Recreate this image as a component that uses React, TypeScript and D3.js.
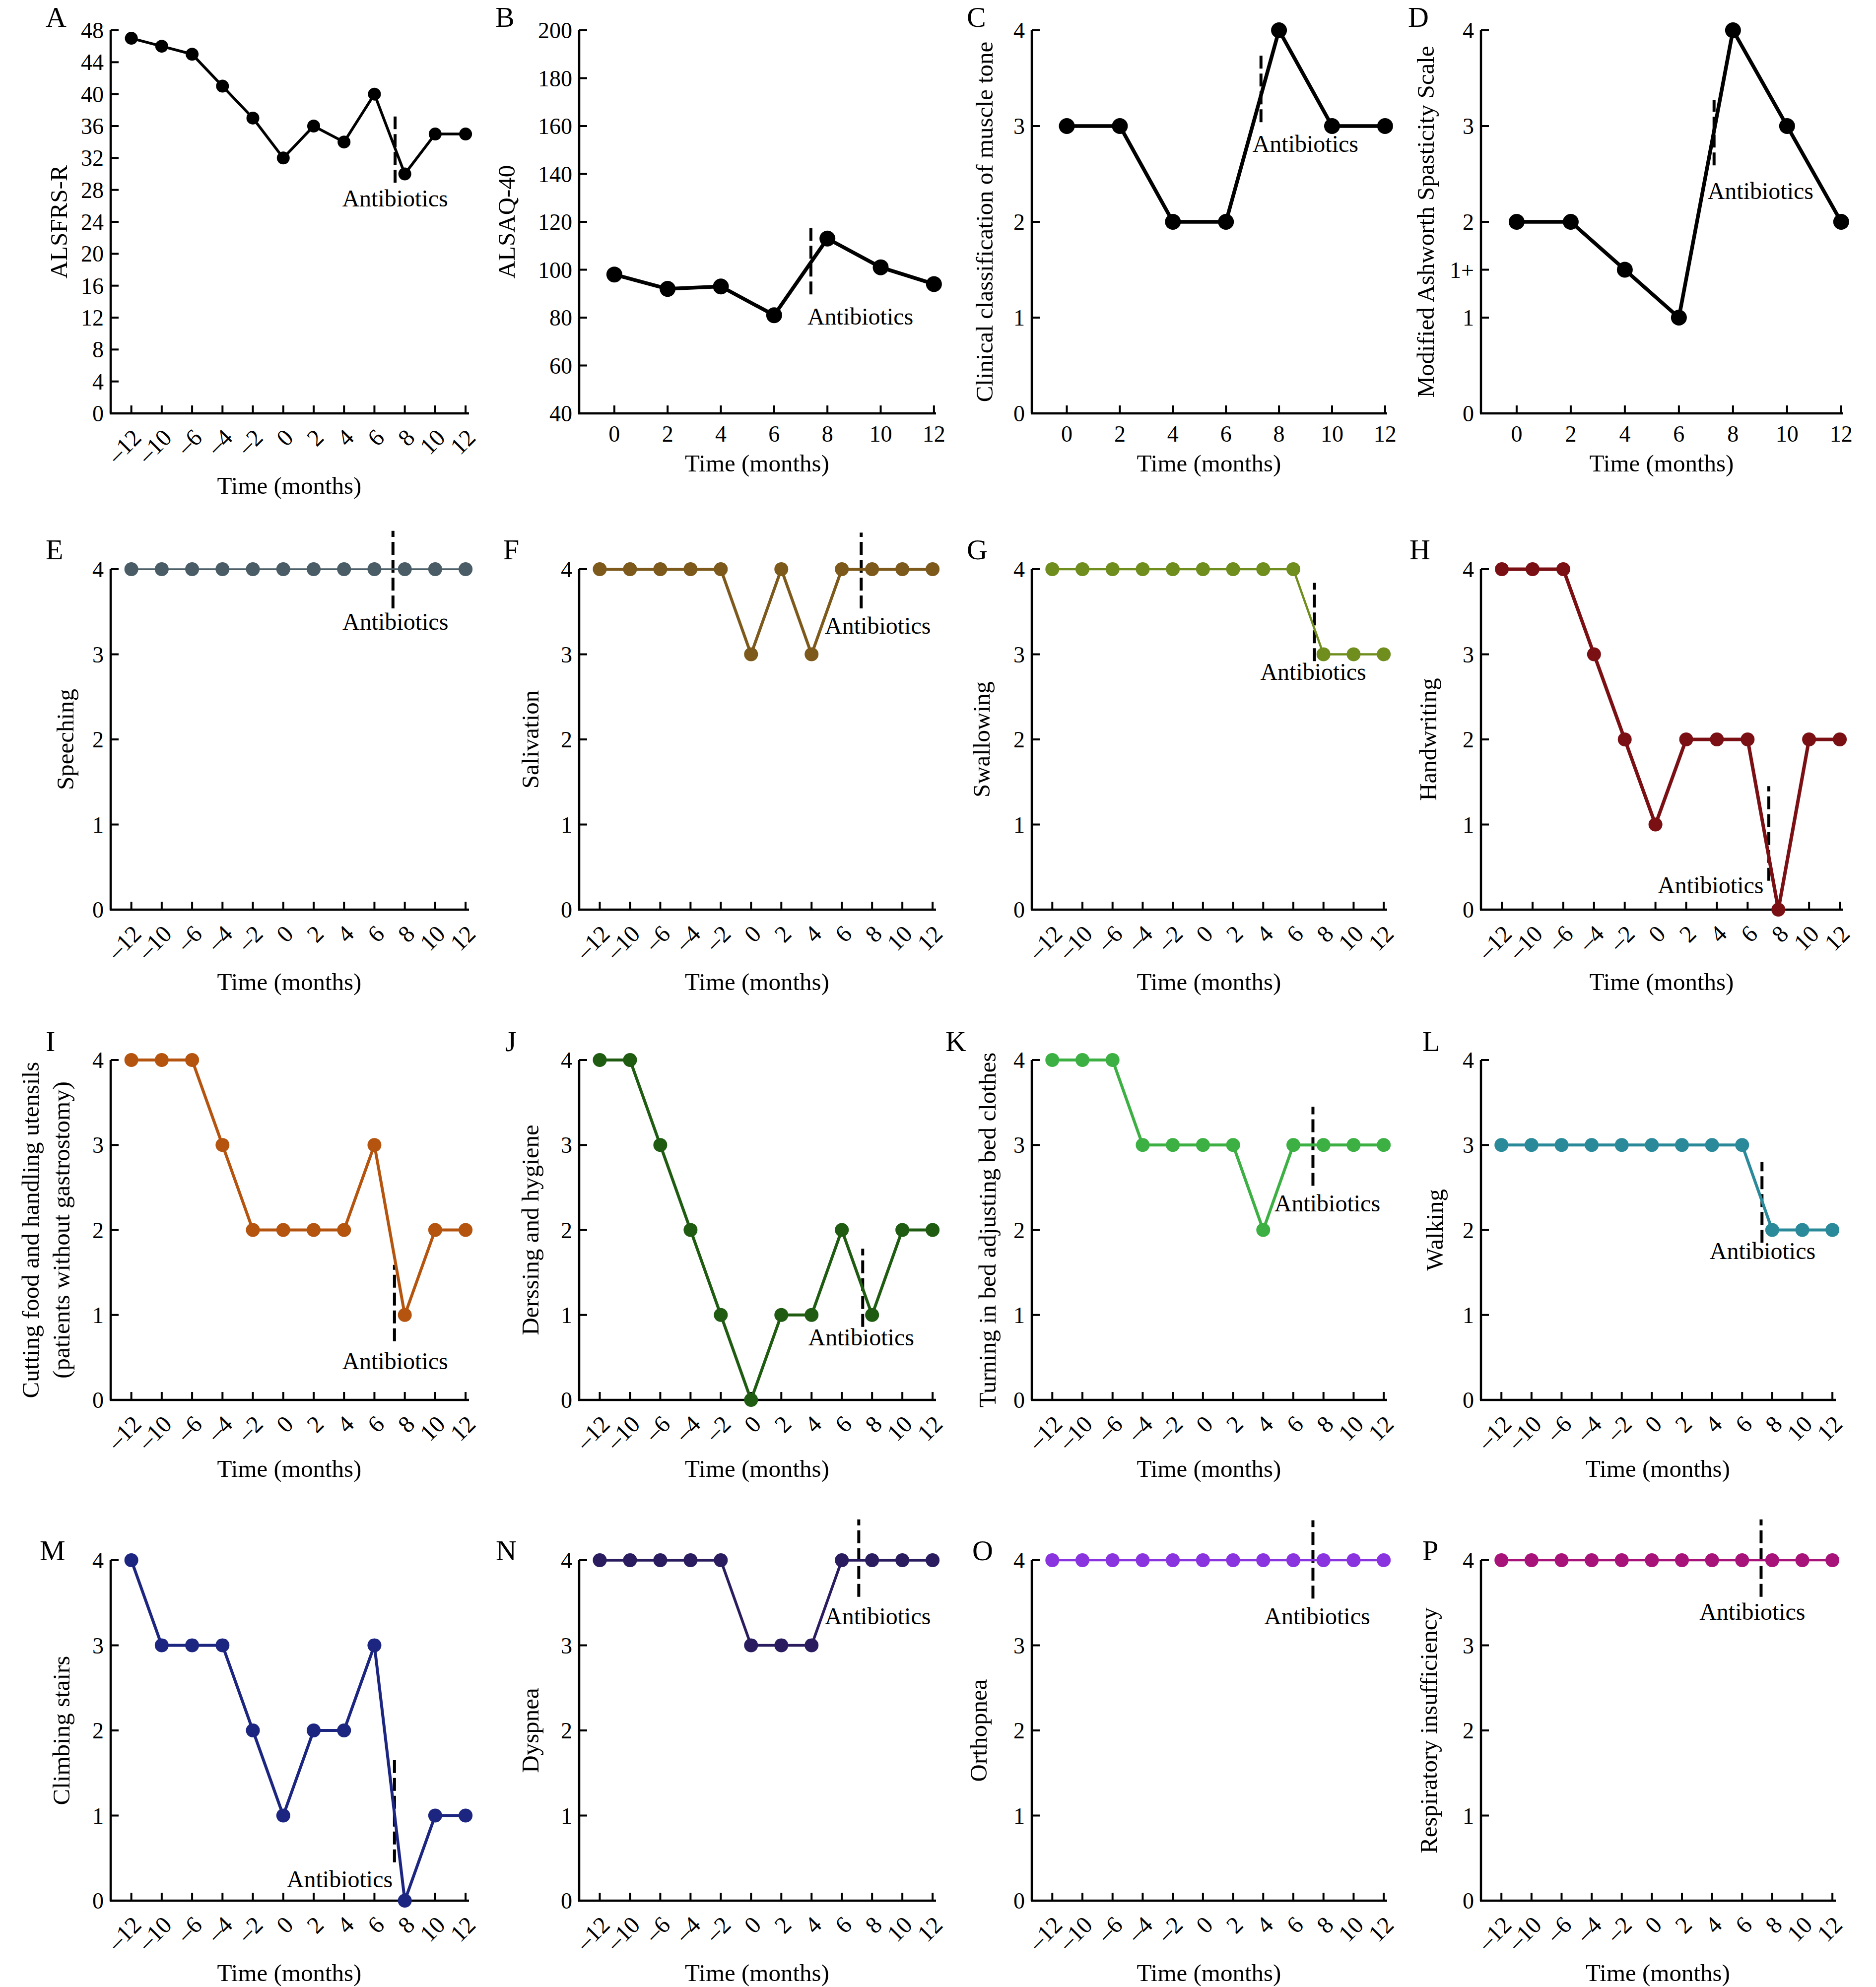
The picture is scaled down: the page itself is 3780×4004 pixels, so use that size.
import React from 'react';
import * as d3 from 'd3';

// ---------- data ----------
const monthsLong = [-12, -10, -6, -4, -2, 0, 2, 4, 6, 8, 10, 12];
const monthsLongLabels = ['–12', '–10', '–6', '–4', '–2', '0', '2', '4', '6', '8', '10', '12'];
const monthsShort = [0, 2, 4, 6, 8, 10, 12];

const alsfrsR = [47, 46, 45, 41, 37, 32, 36, 34, 40, 30, 35, 35];
const alsaq40 = [98, 92, 93, 81, 113, 101, 94];
const muscleTone = [3, 3, 2, 2, 4, 3, 3];
const ashworth = [2, 2, 1.5, 1, 4, 3, 2];
const speeching = [4, 4, 4, 4, 4, 4, 4, 4, 4, 4, 4, 4];
const salivation = [4, 4, 4, 4, 4, 3, 4, 3, 4, 4, 4, 4];
const swallowing = [4, 4, 4, 4, 4, 4, 4, 4, 4, 3, 3, 3];
const handwriting = [4, 4, 4, 3, 2, 1, 2, 2, 2, 0, 2, 2];
const cuttingFood = [4, 4, 4, 3, 2, 2, 2, 2, 3, 1, 2, 2];
const dressing = [4, 4, 3, 2, 1, 0, 1, 1, 2, 1, 2, 2];
const turningInBed = [4, 4, 4, 3, 3, 3, 3, 2, 3, 3, 3, 3];
const walking = [3, 3, 3, 3, 3, 3, 3, 3, 3, 2, 2, 2];
const climbingStairs = [4, 3, 3, 3, 2, 1, 2, 2, 3, 0, 1, 1];
const dyspnea = [4, 4, 4, 4, 4, 3, 3, 3, 4, 4, 4, 4];
const orthopnea = [4, 4, 4, 4, 4, 4, 4, 4, 4, 4, 4, 4];
const respiratory = [4, 4, 4, 4, 4, 4, 4, 4, 4, 4, 4, 4];

const ticksA = [0, 4, 8, 12, 16, 20, 24, 28, 32, 36, 40, 44, 48];
const ticksB = [40, 60, 80, 100, 120, 140, 160, 180, 200];
const ticks0to4 = [0, 1, 2, 3, 4];
const ticksD = [0, 1, 1.5, 2, 3, 4];
const ticksDLabels = ['0', '1', '1+', '2', '3', '4'];

const panelLetters = ['A', 'B', 'C', 'D', 'E', 'F', 'G', 'H', 'I', 'J', 'K', 'L', 'M', 'N', 'O', 'P'];
const yTitles: (string | string[])[] = [
  'ALSFRS-R',
  'ALSAQ-40',
  'Clinical classification of muscle tone',
  'Modified Ashworth Spasticity Scale',
  'Speeching',
  'Salivation',
  'Swallowing',
  'Handwriting',
  ['Cutting food and handling utensils', '(patients without gastrostomy)'],
  'Derssing and hygiene',
  'Turning in bed adjusting bed clothes',
  'Walking',
  'Climbing stairs',
  'Dyspnea',
  'Orthopnea',
  'Respiratory insufficiency',
];
const seriesList = [
  alsfrsR, alsaq40, muscleTone, ashworth,
  speeching, salivation, swallowing, handwriting,
  cuttingFood, dressing, turningInBed, walking,
  climbingStairs, dyspnea, orthopnea, respiratory,
];
// antibiotics annotation: [dashX, dashY1, dashY2, labelX, labelY]
const antibiotics = [
  [8.68, 28.9, 37.2, 8.68, 25.9],
  [7.38, 89.7, 117.5, 7.25, 77.1],
  [7.32, 3.04, 3.74, 7.0, 2.73],
  [7.3, 2.59, 3.27, 7.06, 2.24],
  [8.61, 3.54, 4.45, 8.69, 3.29],
  [8.64, 3.54, 4.43, 7.44, 3.24],
  [8.7, 2.92, 3.84, 8.66, 2.7],
  [8.69, 0.34, 1.45, 8.52, 0.19],
  [8.66, 0.69, 1.59, 8.68, 0.36],
  [8.69, 0.86, 1.78, 8.64, 0.64],
  [8.65, 2.52, 3.45, 7.37, 2.22],
  [8.66, 1.85, 2.8, 8.68, 1.66],
  [8.66, 0.45, 1.65, 8.6, 0.16],
  [8.56, 3.57, 4.48, 7.44, 3.25],
  [8.65, 3.55, 4.47, 8.79, 3.25],
  [8.63, 3.57, 4.48, 8.34, 3.3],
];

// ---------- styles / layout ----------
const colors = [
  '#000000', '#000000', '#000000', '#000000',
  '#4a5d66', '#7d5a1c', '#6f8e1e', '#7b1014',
  '#b5540f', '#1f5c12', '#3cb043', '#2b8a9a',
  '#1c2580', '#2a1c5e', '#8a34e0', '#a8137a',
];
const lineWidths = [5.5, 7.5, 7.5, 7.5, 3.5, 6, 4.5, 7, 6, 6, 6, 6, 6, 5.5, 4.5, 4.5];
const radii = [13, 16, 16, 16, 14, 14, 14, 14, 14, 14, 14, 14, 14, 14, 14, 14];
const labelAnchors = [
  'middle', 'start', 'start', 'start',
  'middle', 'start', 'middle', 'end',
  'middle', 'middle', 'start', 'middle',
  'end', 'start', 'middle', 'middle',
];
const rowTop = [61, 1147, 2136, 3144];
const rowBottom = [833, 1833, 2821, 3830];
const colAxisX = [223, 1167, 2079, 2984];
const colEndX = [943, 1884, 2793, 3712];
const letterDx = [-131, -169, -131, -147, -131, -153, -131, -144, -131, -149, -174, -118, -143, -168, -120, -118];
const letterDy = [-7, -7, -7, -7, -20, -20, -20, -20, -18, -18, -18, -18, 0, 0, 0, 0];
const yTitleDx: (number | number[])[] = [-105, -147, -96, -112, -92, -99, -102, -107, [-162, -100], -99, -90, -94, -100, -99, -108, -106];

const FONT = '"Liberation Serif","Times New Roman",Times,serif';
const TICK_FS = 46;
const ROT_TICK_FS = 48;
const TITLE_FS = 49;
const LETTER_FS = 58;
const ANNO_FS = 48;

function Panel({ i }: { i: number }) {
  const row = Math.floor(i / 4);
  const col = i % 4;
  const x0 = colAxisX[col];
  const x1 = row < 2 ? colEndX[col] : (col === 3 ? 3697 : colEndX[col]);
  const yTop = rowTop[row];
  const yBot = rowBottom[row];
  const short = i >= 1 && i <= 3;
  const values = seriesList[i];
  const color = colors[i];

  const xs = short
    ? d3.scaleLinear().domain([-1.32, 12.04]).range([x0, x1])
    : d3.scaleLinear().domain([-0.68, 11.08]).range([x0, x1]);
  const xPos = (k: number) => (short ? xs(monthsShort[k]) : xs(k));

  let yDomain = [0, 4];
  let yTicks = ticks0to4;
  let yTickLabels = ticks0to4.map(String);
  if (i === 0) { yDomain = [0, 48]; yTicks = ticksA; yTickLabels = ticksA.map(String); }
  if (i === 1) { yDomain = [40, 200]; yTicks = ticksB; yTickLabels = ticksB.map(String); }
  if (i === 3) { yTicks = ticksD; yTickLabels = ticksDLabels; }
  const ys = d3.scaleLinear().domain(yDomain).range([yBot, yTop]);

  const line = d3.line<number>().x((_, k) => xPos(k)).y((d) => ys(d));
  const xTicks = short
    ? monthsShort.map((m) => ({ x: xs(m), label: String(m) }))
    : monthsLong.map((m, k) => ({ x: xs(k), label: monthsLongLabels[k] }));

  const [dX, dY1, dY2, lX, lY] = antibiotics[i];
  const titles = yTitles[i];
  const tdx = yTitleDx[i];
  const cy = (yTop + yBot) / 2;

  return (
    <g>
      {/* axes */}
      <line x1={x0} x2={x0} y1={yTop} y2={yBot} stroke="#000" strokeWidth={4.5} />
      <line x1={x0 - 2} x2={x1 + 2} y1={yBot} y2={yBot} stroke="#000" strokeWidth={4.5} />
      {yTicks.map((t, k) => (
        <g key={'yt' + k}>
          <line x1={x0} x2={x0 + 16} y1={ys(t)} y2={ys(t)} stroke="#000" strokeWidth={4} />
          <text x={x0 - 14} y={ys(t)} dy="0.35em" textAnchor="end" fontSize={TICK_FS} fontFamily={FONT}>
            {yTickLabels[k]}
          </text>
        </g>
      ))}
      {xTicks.map((t, k) => (
        <g key={'xt' + k}>
          <line x1={t.x} x2={t.x} y1={yBot} y2={yBot - 16} stroke="#000" strokeWidth={4} />
          {short ? (
            <text x={t.x} y={yBot + 57} textAnchor="middle" fontSize={TICK_FS} fontFamily={FONT}>
              {t.label}
            </text>
          ) : (
            <text
              transform={`translate(${t.x + 11},${yBot + 40}) rotate(-45)`}
              dy="0.35em"
              textAnchor="end"
              fontSize={ROT_TICK_FS}
              fontFamily={FONT}
            >
              {t.label}
            </text>
          )}
        </g>
      ))}
      {/* axis titles */}
      <text
        x={(x0 + x1) / 2}
        y={short ? yBot + 117 : yBot + (row === 2 ? 155 : 162)}
        textAnchor="middle"
        fontSize={TITLE_FS}
        fontFamily={FONT}
      >
        Time (months)
      </text>
      {Array.isArray(titles) ? (
        titles.map((t, k) => (
          <text
            key={'yl' + k}
            transform={`translate(${x0 + (tdx as number[])[k]},${cy}) rotate(-90)`}
            dy="0.35em"
            textAnchor="middle"
            fontSize={TITLE_FS}
            fontFamily={FONT}
          >
            {t}
          </text>
        ))
      ) : (
        <text
          transform={`translate(${x0 + (tdx as number)},${cy}) rotate(-90)`}
          dy="0.35em"
          textAnchor="middle"
          fontSize={TITLE_FS}
          fontFamily={FONT}
        >
          {titles}
        </text>
      )}
      {/* panel letter */}
      <text x={x0 + letterDx[i]} y={yTop + letterDy[i]} fontSize={LETTER_FS} fontFamily={FONT}>
        {panelLetters[i]}
      </text>
      {/* antibiotics marker */}
      <line
        x1={xs(dX)}
        x2={xs(dX)}
        y1={ys(dY1)}
        y2={ys(dY2)}
        stroke="#000"
        strokeWidth={6}
        strokeDasharray="26 10"
      />
      <text x={xs(lX)} y={ys(lY)} textAnchor={labelAnchors[i] as any} fontSize={ANNO_FS} fontFamily={FONT}>
        Antibiotics
      </text>
      {/* series */}
      <path d={line(values) || ''} fill="none" stroke={color} strokeWidth={lineWidths[i]} strokeLinejoin="round" />
      {values.map((v, k) => (
        <circle key={'p' + k} cx={xPos(k)} cy={ys(v)} r={radii[i]} fill={color} />
      ))}
    </g>
  );
}

export default function App() {
  return (
    <svg
      width={3780}
      height={4004}
      viewBox="0 0 3780 4004"
      style={{ position: 'absolute', left: 0, top: 0, background: '#fff' }}
    >
      <rect x={0} y={0} width={3780} height={4004} fill="#fff" />
      {panelLetters.map((_, i) => (
        <Panel key={i} i={i} />
      ))}
    </svg>
  );
}
